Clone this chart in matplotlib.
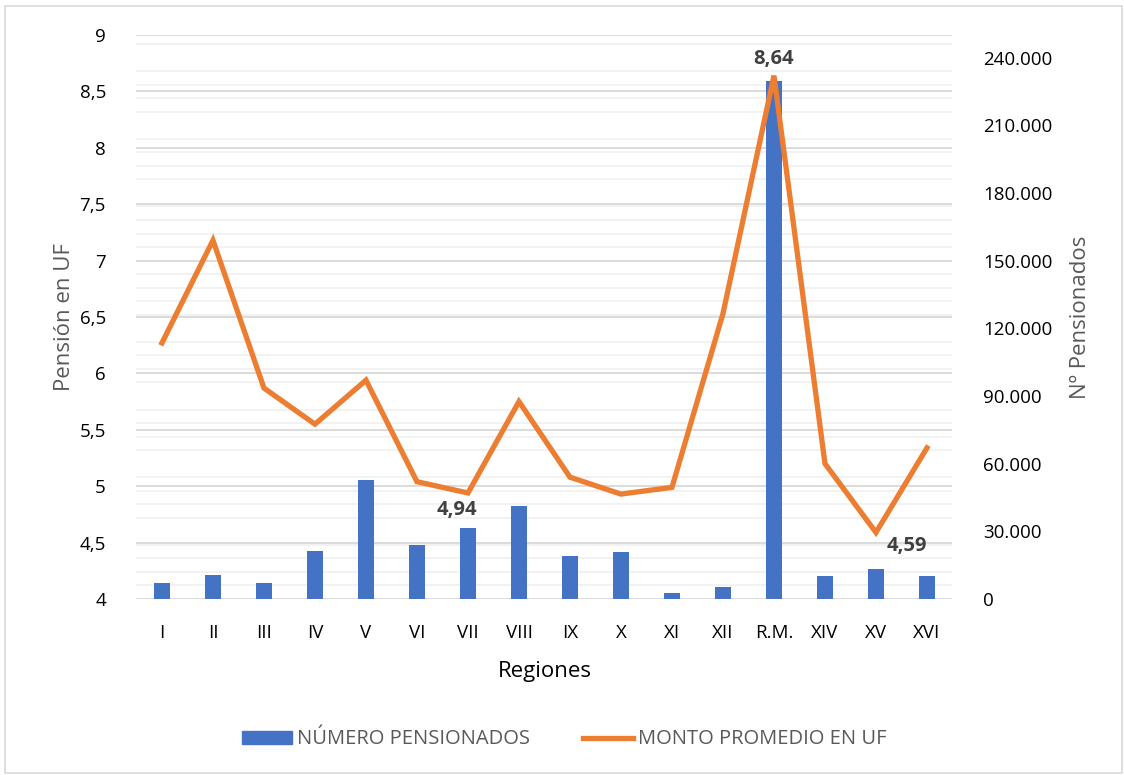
"""Número de pensionados y monto promedio en UF por región.
"""
import matplotlib
matplotlib.use("Agg")
import matplotlib.pyplot as plt
from matplotlib.patches import Patch, Rectangle
from matplotlib.lines import Line2D
from matplotlib.ticker import FuncFormatter, MultipleLocator

plt.rcParams["font.family"] = ["Open Sans", "DejaVu Sans"]

#### Data.
regiones = ["I", "II", "III", "IV", "V", "VI", "VII", "VIII", "IX", "X",
            "XI", "XII", "R.M.", "XIV", "XV", "XVI"]
num_pensionados = [7000, 10600, 7000, 21400, 52800, 24000, 31500, 41400,
                   19100, 20700, 2800, 5200, 229500, 10400, 13300, 10100]
monto_promedio_uf = [6.27, 7.18, 5.87, 5.55, 5.94, 5.04, 4.94, 5.75,
                     5.08, 4.93, 4.99, 6.53, 8.64, 5.20, 4.59, 5.34]
labelled = {"VII": (-8, -12), "R.M.": (0, 12), "XV": (22, -10)}

#### Style.
BLUE = "#4472C4"
ORANGE = "#ED7D31"
GREY_TXT = "#595959"
GRID_MAJOR = "#d9d9d9"
GRID_MINOR = "#f0f0f0"
POS = [0.1214, 0.2271, 0.7260, 0.7277]

fig = plt.figure(figsize=(11.24, 7.75), dpi=100)
ax = fig.add_axes(POS)          # left axis: grid + ticks
ax2 = ax.twinx()                # right axis: bars
ax3 = fig.add_axes(POS, sharex=ax, sharey=ax)  # line on top of bars
ax.set_zorder(0)
ax2.set_zorder(1)
ax3.set_zorder(2)
ax2.patch.set_visible(False)
ax3.patch.set_visible(False)
ax3.axis("off")

x = list(range(len(regiones)))

# bars on the right axis
ax2.bar(x, num_pensionados, width=0.32, color=BLUE, zorder=2)
ax2.set_ylim(0, 250000)
ax2.yaxis.set_major_locator(MultipleLocator(30000))
ax2.yaxis.set_minor_locator(MultipleLocator(6000))
ax2.yaxis.set_major_formatter(FuncFormatter(lambda v, p: f"{int(v):,}".replace(",", ".")))
ax2.set_ylabel("Nº Pensionados", color=GREY_TXT, fontsize=16, labelpad=13)

# light grid from the right axis ticks, drawn in the bottom axes
for t in ax2.yaxis.get_minorticklocs():
    ax.axhline(4 + t / 50000, color=GRID_MINOR, linewidth=1.2, zorder=0)

# line on the left axis
ax3.plot(x, monto_promedio_uf, color=ORANGE, linewidth=3.8, solid_joinstyle="miter")
ax.set_ylim(4, 9)
ax.set_xlim(-0.5, len(regiones) - 0.5)
ax.yaxis.set_major_locator(MultipleLocator(0.5))
ax.yaxis.set_major_formatter(FuncFormatter(lambda v, p: f"{v:g}".replace(".", ",")))
ax.grid(True, axis="y", which="major", color=GRID_MAJOR, linewidth=1.3)
ax.set_axisbelow(True)
ax.set_xticks(x)
ax.set_xticklabels(regiones)
ax.set_ylabel("Pensión en UF", color=GREY_TXT, fontsize=16, labelpad=3)
ax.set_xlabel("Regiones", color="#000000", fontsize=16, labelpad=14)

for name, (dx, dy) in labelled.items():
    i = regiones.index(name)
    ax3.annotate(f"{monto_promedio_uf[i]:.2f}".replace(".", ","), (i, monto_promedio_uf[i]),
                 xytext=(dx, dy), textcoords="offset points", ha="center", va="center",
                 fontsize=14.5, fontweight="bold", color="#404040")

for a in (ax, ax2):
    for s in a.spines.values():
        s.set_visible(False)
    a.tick_params(which="both", length=0, labelsize=13.5, colors="#000000")
ax.tick_params(axis="x", pad=18)
ax.tick_params(axis="y", pad=22)
ax2.tick_params(axis="y", pad=22)

# legend
handles = [Patch(color=BLUE), Line2D([0], [0], color=ORANGE, linewidth=3.8)]
fig.legend(handles, ["NÚMERO PENSIONADOS", "MONTO PROMEDIO EN UF"],
           loc="center", bbox_to_anchor=(0.502, 0.046), ncol=2, frameon=False,
           fontsize=14.5, labelcolor=GREY_TXT, handlelength=2.5, columnspacing=2.6,
           handletextpad=0.25, handleheight=0.6)

# chart frame
fig.patches.append(Rectangle((5 / 1124, 0.002), 1 - 7 / 1124, 1 - 6 / 775 - 0.002,
                             transform=fig.transFigure, fill=False,
                             edgecolor="#d9d9d9", linewidth=1.2))

fig.savefig("out.png", dpi=100)
plt.close(fig)
